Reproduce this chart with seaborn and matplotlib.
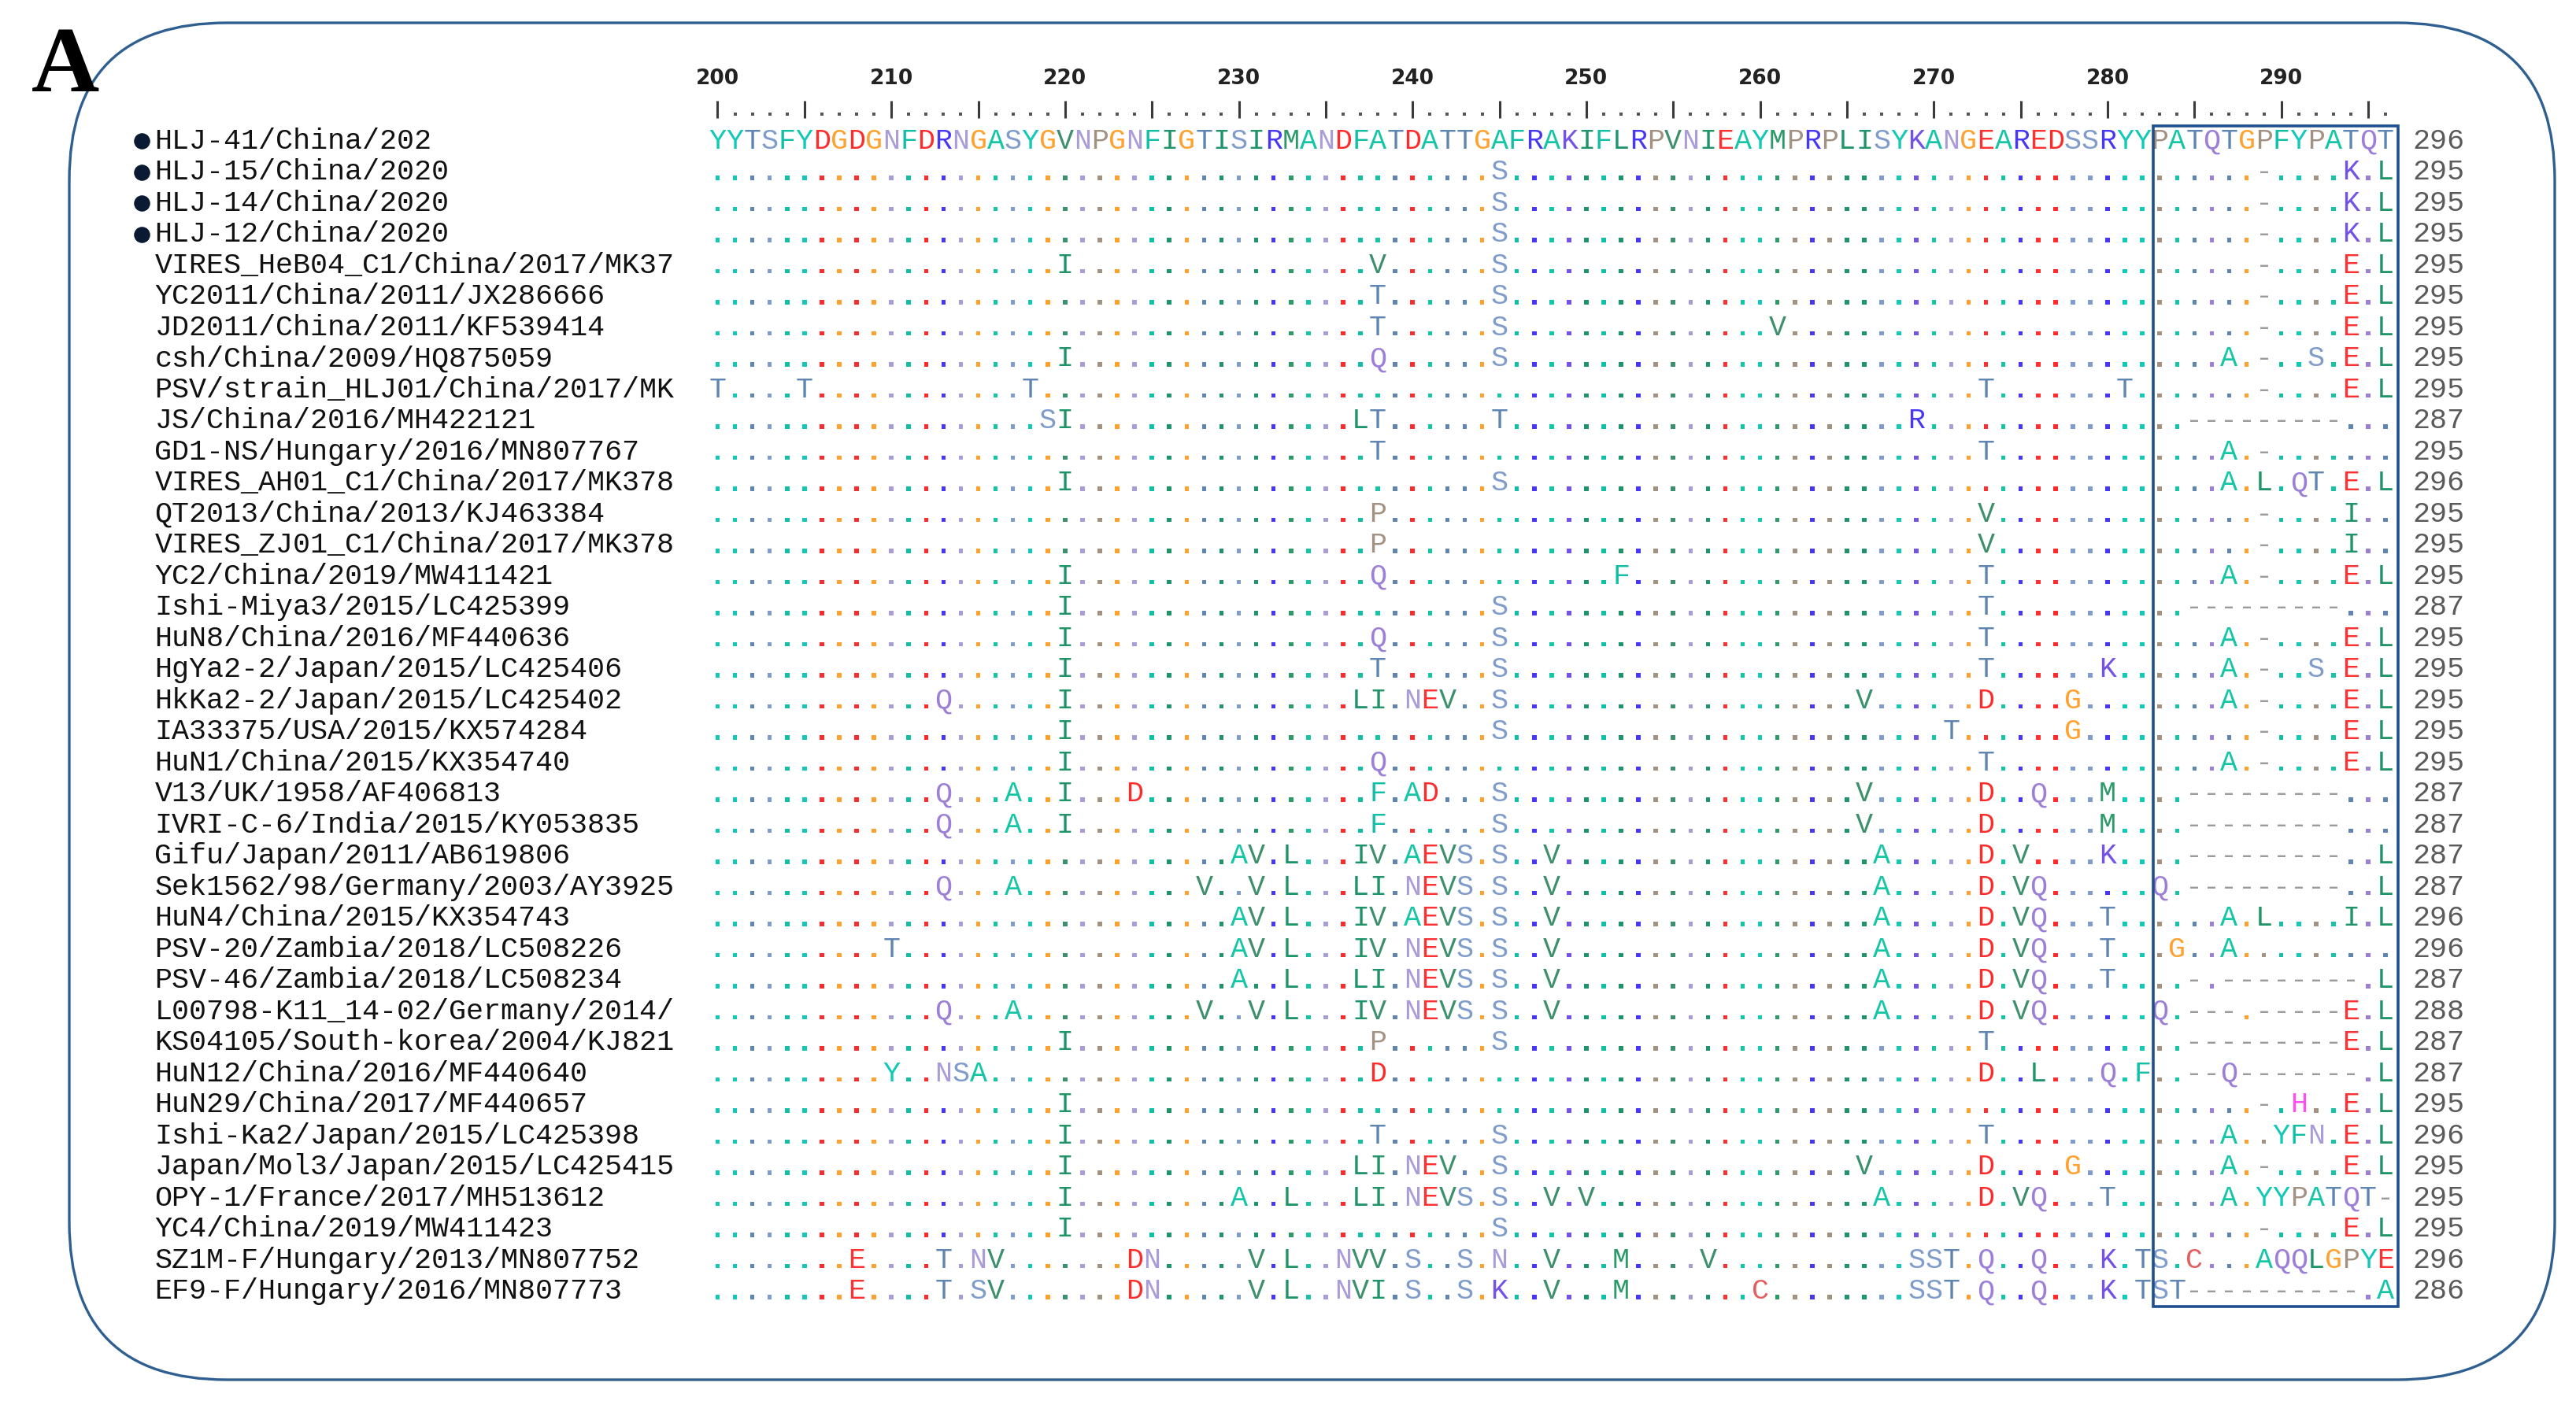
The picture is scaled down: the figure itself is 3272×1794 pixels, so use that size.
import matplotlib
matplotlib.use('Agg')
import matplotlib.pyplot as plt
from matplotlib.patches import FancyBboxPatch, Rectangle
import pandas as pd
import seaborn as sns

# alignment window, first strain is shown in full
start_pos = 200
ref_seq = 'YYTSFYDGDGNFDRNGASYGVNPGNFIGTISIRMANDFATDATTGAFRAKIFLRPVNIEAYMPRPLISYKANGEAREDSSRYYPATQTGPFYPATQT'

names = [
    'HLJ-41/China/202', 'HLJ-15/China/2020', 'HLJ-14/China/2020', 'HLJ-12/China/2020',
    'VIRES_HeB04_C1/China/2017/MK37', 'YC2011/China/2011/JX286666', 'JD2011/China/2011/KF539414',
    'csh/China/2009/HQ875059', 'PSV/strain_HLJ01/China/2017/MK', 'JS/China/2016/MH422121',
    'GD1-NS/Hungary/2016/MN807767', 'VIRES_AH01_C1/China/2017/MK378', 'QT2013/China/2013/KJ463384',
    'VIRES_ZJ01_C1/China/2017/MK378', 'YC2/China/2019/MW411421', 'Ishi-Miya3/2015/LC425399',
    'HuN8/China/2016/MF440636', 'HgYa2-2/Japan/2015/LC425406', 'HkKa2-2/Japan/2015/LC425402',
    'IA33375/USA/2015/KX574284', 'HuN1/China/2015/KX354740', 'V13/UK/1958/AF406813',
    'IVRI-C-6/India/2015/KY053835', 'Gifu/Japan/2011/AB619806', 'Sek1562/98/Germany/2003/AY3925',
    'HuN4/China/2015/KX354743', 'PSV-20/Zambia/2018/LC508226', 'PSV-46/Zambia/2018/LC508234',
    'L00798-K11_14-02/Germany/2014/', 'KS04105/South-korea/2004/KJ821', 'HuN12/China/2016/MF440640',
    'HuN29/China/2017/MF440657', 'Ishi-Ka2/Japan/2015/LC425398', 'Japan/Mol3/Japan/2015/LC425415',
    'OPY-1/France/2017/MH513612', 'YC4/China/2019/MW411423', 'SZ1M-F/Hungary/2013/MN807752',
    'EF9-F/Hungary/2016/MN807773',
]
marked = [True] * 4 + [False] * 34

# differences to the first strain: start position + run ('.' same, '-' gap)
variants = [
    '',
    '245S 289- 294K 296L',
    '245S 289- 294K 296L',
    '245S 289- 294K 296L',
    '220I 238V 245S 289- 294E 296L',
    '238T 245S 289- 294E 296L',
    '238T 245S 261V 289- 294E 296L',
    '220I 238Q 245S 287A 289- 292S 294E 296L',
    '200T 205T 218T 273T 281T 289- 294E 296L',
    '219SI 237LT 245T 269R 285---------',
    '238T 273T 287A 289-',
    '220I 245S 287A.L.QT.E.L',
    '238P 273V 289- 294I',
    '238P 273V 289- 294I',
    '220I 238Q 252F 273T 287A 289- 294E 296L',
    '220I 245S 273T 285---------',
    '220I 238Q 245S 273T 287A 289- 294E 296L',
    '220I 238T 245S 273T 280K 287A 289- 292S 294E 296L',
    '213Q 220I 237LI.NEV 245S 266V 273D 278G 287A 289- 294E 296L',
    '220I 245S 271T 278G 289- 294E 296L',
    '220I 238Q 273T 287A 289- 294E 296L',
    '213Q 217A 220I 224D 238F.AD 245S 266V 273D 276Q 280M 285---------',
    '213Q 217A 220I 238F 245S 266V 273D 280M 285---------',
    '230AV.L...IV.AEVS.S..V 267A 273D 275V 280K 285--------- 296L',
    '213Q 217A 228V..V.L...LI.NEVS.S..V 267A 273D 275VQ 283Q 285--------- 296L',
    '230AV.L...IV.AEVS.S..V 267A 273D 275VQ 280T 287A.L 294I 296L',
    '210T 230AV.L...IV.NEVS.S..V 267A 273D 275VQ 280T 284G 287A',
    '230A..L...LI.NEVS.S..V 267A 273D 275VQ 280T 285-.-------- 296L',
    '213Q 217A 228V..V.L...IV.NEVS.S..V 267A 273D 275VQ 283Q.---.-----E.L',
    '220I 238P 245S 273T 285---------E.L',
    '210Y..NSA 238D 273D 276L 280Q.F 285--Q-------.L',
    '220I 289-.H..E.L',
    '220I 238T 245S 273T 287A..YFN.E.L',
    '220I 237LI.NEV 245S 266V 273D 278G 287A 289- 294E 296L',
    '220I 230A..L...LI.NEVS.S..V.V 267A 273D 275VQ 280T 287A.YYPATQT-',
    '220I 245S 289- 294E 296L',
    '208E 213T.NV 224DN 231V.L..NVV.S..S.N..V...M....V 269SST.Q..Q...K.TS.C...AQQLGPYE',
    '208E 213T.SV 224DN 231V.L..NVI.S..S.K..V...M.......C 269SST.Q..Q...K.TST----------.A',
]

end_numbers = [296, 295, 295, 295, 295, 295, 295, 295, 295, 287, 295, 296, 295, 295, 295, 287,
               295, 295, 295, 295, 295, 287, 287, 287, 287, 296, 296, 287, 288, 287, 287, 295,
               296, 295, 295, 295, 296, 286]

res_colors = {
    'Y': '#12c9b7', 'F': '#10bfa6', 'A': '#14c6a6', 'T': '#5f86b3', 'S': '#7f9ccb',
    'D': '#ff2a2a', 'E': '#ff3030', 'G': '#ffa12e', 'N': '#a99cd9', 'Q': '#9c7fd6',
    'R': '#4636f5', 'K': '#7452e6', 'V': '#3d8f6d', 'I': '#1f9468', 'L': '#1f9468',
    'M': '#2e9a6a', 'P': '#a39282', 'H': '#ff4ff2', 'C': '#e25f5f', '-': '#9b9b9b',
}


def build_row(spec):
    row = ['.'] * len(ref_seq)
    for tok in spec.split():
        i = 0
        while tok[i].isdigit():
            i += 1
        p = int(tok[:i]) - start_pos
        for k, ch in enumerate(tok[i:]):
            row[p + k] = ch
    return row


rows = [list(ref_seq)] + [build_row(v) for v in variants[1:]]

# long table of cells: dots take the colour of the first strain's residue
cells = []
for r, row in enumerate(rows):
    for c, ch in enumerate(row):
        cells.append({'row': r, 'pos': start_pos + c, 'char': ch, 'ref': ref_seq[c]})
df = pd.DataFrame(cells)
dots = df[df['char'] == '.'].copy()
dots['y'] = dots['row'] + 0.21
letters = df[df['char'] != '.']

sns.set_style('white')
fig = plt.figure(figsize=(32.72, 17.94), dpi=100)
ax = fig.add_axes([0, 0, 1, 1])

sns.scatterplot(data=dots, x='pos', y='y', hue='ref', palette=res_colors, marker='s',
                s=16, linewidth=0, legend=False, ax=ax)

mono = 'Liberation Mono'
for _, cell in letters.iterrows():
    ax.text(cell['pos'], cell['row'] + 0.275, cell['char'], color=res_colors[cell['char']],
            fontsize=26.5, family=mono, ha='center', va='baseline')

# strain names, markers and end positions
for r, name in enumerate(names):
    ax.text(167.6, r + 0.275, name, fontsize=26.5, family=mono, color='#111111',
            ha='left', va='baseline')
    ax.text(297.53, r + 0.275, str(end_numbers[r]), fontsize=26.5, family=mono,
            color='#5a5a5a', ha='left', va='baseline')
mk = [r for r, m in enumerate(marked) if m]
ax.scatter([166.86] * len(mk), [r + 0.03 for r in mk], s=190, color='#0b1a33', zorder=3)

# ruler
positions = list(range(start_pos, start_pos + len(ref_seq)))
major = [p for p in positions if p % 5 == 0]
minor = [p for p in positions if p % 5 != 0]
ax.vlines(major, -1.27, -0.71, color='#3a3a3a', lw=2.2)
ax.scatter(minor, [-0.83] * len(minor), marker='s', s=9, color='#555555', linewidth=0)
for p in positions:
    if p % 10 == 0:
        ax.text(p, -1.975, str(p), ha='center', va='center', fontsize=19,
                fontweight='bold', family='DejaVu Sans', color='#222222')

# highlighted region
ax.add_patch(Rectangle((282.65, -0.456), 296.7 - 282.65, 37.52 + 0.456, fill=False,
                       ec='#1f4f8f', lw=2.6, zorder=4))

ax.set_xlim(158.70, 306.96)
ax.set_ylim(40.91, -4.506)
ax.axis('off')

# rounded frame and panel letter
frame = FancyBboxPatch((0.88, 0.41), 32.45 - 0.88, 17.65 - 0.41,
                       boxstyle='round,pad=0,rounding_size=2.0',
                       transform=fig.dpi_scale_trans, fill=False, ec='#2f5f91', lw=2.4)
fig.patches.append(frame)
fig.text(83 / 3272, 1 - 88 / 1794, 'A', ha='center', va='center', fontsize=86,
         fontweight='bold', family='Liberation Serif', color='black')

fig.savefig('out.png', dpi=100)
